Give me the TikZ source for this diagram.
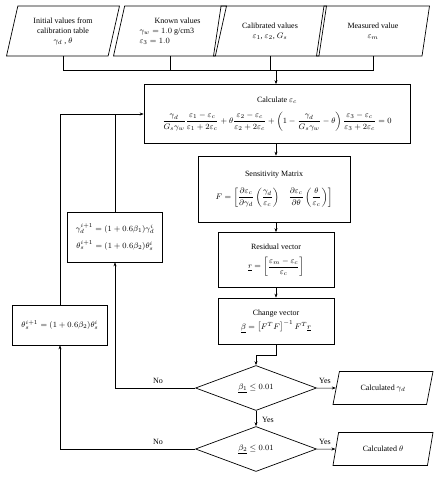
\documentclass[tikz,border=0pt]{standalone}
\usepackage{amsmath}
\usepackage{fontspec}
\setmainfont{Liberation Serif}
\usetikzlibrary{shapes.geometric,arrows.meta}

\begin{document}
\begin{tikzpicture}[x=1pt,y=-1pt,
	every node/.style={font=\fontsize{8}{10}\selectfont,align=center,inner sep=2pt},
	box/.style={draw,line width=0.7pt,rectangle},
	iobox/.style={draw,line width=0.7pt,trapezium,trapezium left angle=70,trapezium right angle=110,trapezium stretches body,minimum width=113pt,minimum height=50pt},
	outbox/.style={iobox,trapezium left angle=60,trapezium right angle=120,minimum width=100pt,minimum height=33pt},
	decide/.style={draw,line width=0.7pt,diamond,aspect=2.7,inner sep=0pt,minimum width=121pt,minimum height=45pt},
	arr/.style={-{Stealth[length=4pt,width=3pt]},line width=0.5pt},
	link/.style={line width=0.5pt}]
\useasboundingbox (0,0) rectangle (440,479);
\node[iobox] (init) at (63,31) {Initial values from\\calibration table\\$\gamma_d$ , $\theta$};
\node[iobox,align=left] (known) at (170,31) {\hspace*{15pt}Known values\\$\gamma_w = 1.0$ g/cm3\\$\varepsilon_3 = 1.0$};
\node[iobox] (calib) at (270,31) {Calibrated values\\$\varepsilon_1$, $\varepsilon_2$, $G_s$};
\node[iobox] (meas) at (373,31) {Measured value\\$\varepsilon_m$};
\node[box,minimum width=266pt,minimum height=59pt] (calc) at (277,114) {Calculate $\varepsilon_c$\\[7pt]
	$\dfrac{\gamma_d}{G_s\gamma_w}\dfrac{\varepsilon_1-\varepsilon_c}{\varepsilon_1+2\varepsilon_c}+\theta\dfrac{\varepsilon_2-\varepsilon_c}{\varepsilon_2+2\varepsilon_c}+\left(1-\dfrac{\gamma_d}{G_s\gamma_w}-\theta\right)\dfrac{\varepsilon_3-\varepsilon_c}{\varepsilon_3+2\varepsilon_c}=0$};
\node[box,minimum width=152pt,minimum height=66pt] (sens) at (274,189) {Sensitivity Matrix\\[9pt]
	$F=\left[\dfrac{\partial\varepsilon_c}{\partial\gamma_d}\left(\dfrac{\gamma_d}{\varepsilon_c}\right)\quad\dfrac{\partial\varepsilon_c}{\partial\theta}\left(\dfrac{\theta}{\varepsilon_c}\right)\right]$};
\node[box,minimum width=116pt,minimum height=55pt] (resid) at (276,260) {Residual vector\\[7pt]
	$\underline{r}=\left[\dfrac{\varepsilon_m-\varepsilon_c}{\varepsilon_c}\right]$};
\node[box,minimum width=116pt,minimum height=46pt] (change) at (276,321) {Change vector\\[3pt]
	$\underline{\beta}=\left[F^TF\right]^{-1}F^T\underline{r}$};
\node[decide] (dec1) at (256,388) {$\underline{\beta_1}\leq 0.01$};
\node[decide] (dec2) at (256,449) {$\underline{\beta_2}\leq 0.01$};
\node[outbox] (outg) at (383,388) {Calculated $\gamma_d$};
\node[outbox] (outt) at (383,449) {Calculated $\theta$};
\node[box,minimum width=95pt,minimum height=50pt] (upd1) at (115,237) {$\gamma_d^{i+1}=(1+0.6\beta_1)\gamma_d^i$\\[6pt]$\theta_s^{i+1}=(1+0.6\beta_2)\theta_s^i$};
\node[box,minimum width=95pt,minimum height=40pt] (upd2) at (60,325) {$\theta_s^{i+1}=(1+0.6\beta_2)\theta_s^i$};
\node (no1) at (158,381) {No};
\node (yes1) at (325,381) {Yes};
\node[anchor=west] (yes2) at (260,420) {Yes};
\node (no2) at (158,442) {No};
\node (yes3) at (325,442) {Yes};
\coordinate (bus) at (0,70);
\coordinate (join) at (276,70);
\draw[link] (init.south) -- (init.south |- bus) -- (meas.south |- bus) -- (meas.south);
\draw[link] (known.south) -- (known.south |- bus);
\draw[link] (calib.south) -- (calib.south |- bus);
\draw[arr] (join) -- (calc.north -| join);
\draw[arr] (calc.south -| resid.north) -- (sens.north -| resid.north);
\draw[arr] (sens.south -| resid.north) -- (resid.north);
\draw[arr] (resid.south) -- (change.north);
\draw[arr] (change.south) -- ++(0,11) -| (dec1.north);
\draw[arr] (dec1.east) -- (outg.west);
\draw[arr] (dec1.south) -- (dec2.north);
\draw[arr] (dec2.east) -- (outt.west);
\draw[arr] (dec1.west) -| (upd1.south);
\draw[link] (upd1.north) -- (upd1.north |- calc.west);
\draw[arr] (dec2.west) -| (upd2.south);
\draw[arr] (upd2.north) |- (calc.west);
\end{tikzpicture}
\end{document}
